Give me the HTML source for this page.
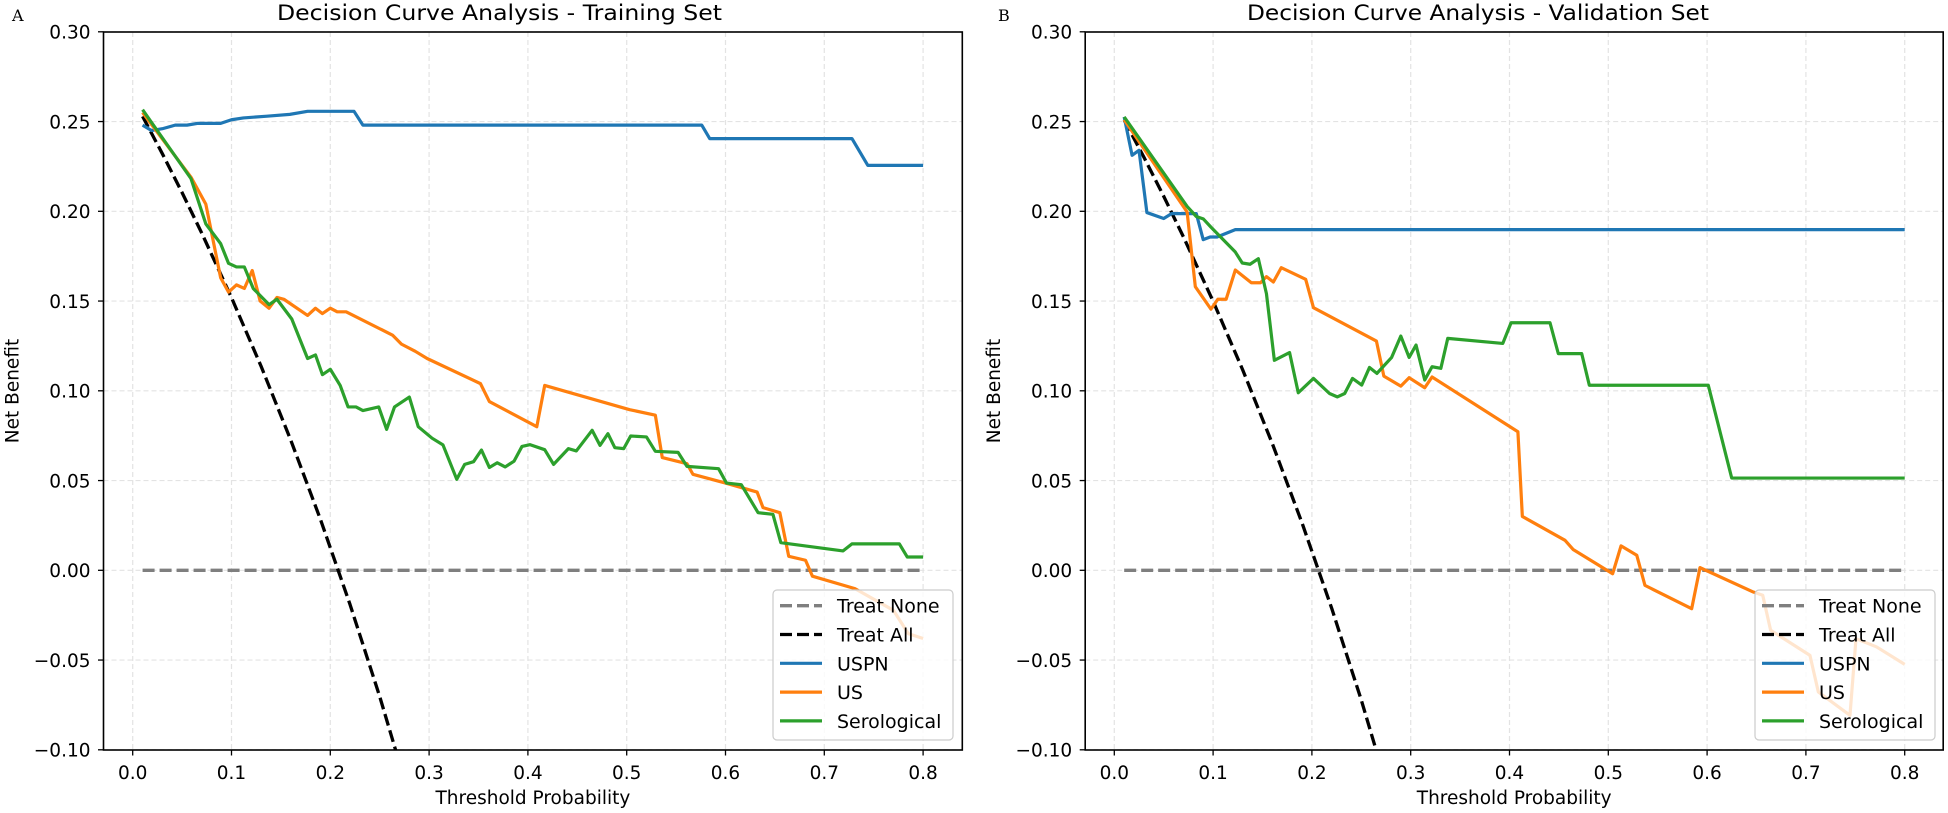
<!DOCTYPE html>
<html><head><meta charset="utf-8">
<style>
html,body{margin:0;padding:0;background:#fff;}
svg{display:block;}
text{font-family:"DejaVu Sans","Liberation Sans",sans-serif;fill:#000;}
.serif{font-family:"DejaVu Serif","Liberation Serif",serif;}
</style></head>
<body>
<svg id="chart" width="1948" height="813" viewBox="0 0 1948 813" xmlns="http://www.w3.org/2000/svg">
  <rect x="0" y="0" width="1948" height="813" fill="#fff"/>
  <text class="serif" x="12" y="21" font-size="16">A</text>
  <text class="serif" x="998" y="21" font-size="16">B</text>
  <g id="plotA"></g>
  <g id="plotB"></g>
</svg>
<script>
// ---- shared tick data ----
const xTicks = [0.0,0.1,0.2,0.3,0.4,0.5,0.6,0.7,0.8];
const xTickLabels = ["0.0","0.1","0.2","0.3","0.4","0.5","0.6","0.7","0.8"];
const yTicks = [0.30,0.25,0.20,0.15,0.10,0.05,0.00,-0.05,-0.10];
const yTickLabels = ["0.30","0.25","0.20","0.15","0.10","0.05","0.00","\u22120.05","\u22120.10"];
const legendLabels = ["Treat None","Treat All","USPN","US","Serological"];

// ---- Training set (A) ----
const trainNoneP = [0.01,0.80];
const trainNoneV = [0,0];
const trainAllP = [0.01,0.03,0.05,0.07,0.10,0.13,0.16,0.19,0.22,0.25,0.28];
const trainAllV = [0.2529,0.2321,0.2104,0.1877,0.1519,0.1136,0.0725,0.0284,-0.0191,-0.0703,-0.1259];
const trainUspnP = [0.01,0.019,0.03,0.043,0.055,0.066,0.089,0.10,0.112,0.136,0.159,0.177,0.224,0.233,0.576,0.584,0.728,0.744,0.80];
const trainUspnV = [0.248,0.245,0.246,0.248,0.248,0.249,0.249,0.251,0.252,0.253,0.254,0.2557,0.2557,0.248,0.248,0.2405,0.2405,0.2256,0.2256];
const trainUsP = [0.01,0.059,0.074,0.089,0.097,0.105,0.113,0.121,0.129,0.138,0.146,0.153,0.177,0.185,0.192,0.20,0.207,0.216,0.263,0.272,0.286,0.298,0.352,0.361,0.409,0.417,0.503,0.529,0.536,0.561,0.567,0.600,0.632,0.638,0.655,0.664,0.681,0.688,0.731,0.770,0.785,0.80];
const trainUsV = [0.255,0.219,0.204,0.163,0.155,0.159,0.157,0.167,0.150,0.146,0.152,0.151,0.142,0.146,0.143,0.146,0.144,0.144,0.131,0.126,0.122,0.118,0.104,0.094,0.080,0.103,0.0895,0.0864,0.0628,0.0594,0.0535,0.0486,0.0436,0.0349,0.0321,0.0078,0.0056,-0.0033,-0.0102,-0.0223,-0.0353,-0.038];
const trainSeroP = [0.01,0.059,0.074,0.089,0.097,0.105,0.113,0.122,0.138,0.146,0.161,0.177,0.185,0.192,0.20,0.21,0.218,0.226,0.233,0.249,0.257,0.265,0.28,0.289,0.303,0.314,0.328,0.336,0.345,0.353,0.361,0.369,0.377,0.386,0.394,0.402,0.417,0.426,0.441,0.449,0.465,0.473,0.481,0.488,0.497,0.504,0.520,0.529,0.552,0.561,0.593,0.601,0.616,0.633,0.648,0.656,0.719,0.728,0.776,0.784,0.80];
const trainSeroV = [0.2566,0.2182,0.193,0.182,0.171,0.169,0.169,0.157,0.148,0.151,0.140,0.118,0.120,0.109,0.112,0.103,0.091,0.091,0.089,0.091,0.0785,0.091,0.0965,0.080,0.0736,0.0699,0.0507,0.059,0.0605,0.067,0.0573,0.0599,0.0576,0.0608,0.069,0.070,0.0672,0.059,0.0678,0.0665,0.078,0.0696,0.0761,0.0683,0.0678,0.0748,0.0743,0.0663,0.0657,0.0579,0.0566,0.0486,0.0477,0.0321,0.0312,0.0154,0.0108,0.0147,0.0147,0.0074,0.0074];

// ---- Validation set (B) ----
const valNoneP = [0.01,0.80];
const valNoneV = [0,0];
const valAllP = [0.01,0.03,0.05,0.07,0.10,0.13,0.16,0.19,0.22,0.25,0.28];
const valAllV = [0.2509,0.2301,0.2084,0.1857,0.1499,0.1116,0.0705,0.0264,-0.0211,-0.0723,-0.1279];
const valUspnP = [0.01,0.018,0.025,0.033,0.050,0.058,0.083,0.090,0.097,0.104,0.1225,0.80];
const valUspnV = [0.2526,0.2312,0.234,0.1993,0.196,0.1987,0.1987,0.1842,0.1857,0.1857,0.1898,0.1898];
const valUsP = [0.01,0.0737,0.082,0.0978,0.1048,0.1132,0.1225,0.1387,0.148,0.154,0.161,0.169,0.1937,0.2016,0.2653,0.2728,0.290,0.2984,0.3142,0.3216,0.4085,0.413,0.4562,0.4646,0.5044,0.5129,0.5288,0.5371,0.5844,0.5928,0.6468,0.6563,0.6643,0.7041,0.7126,0.7446,0.7507,0.7716,0.80];
const valUsV = [0.251,0.1996,0.158,0.1455,0.151,0.151,0.1673,0.1602,0.1602,0.1636,0.1606,0.1686,0.1621,0.1463,0.1277,0.1082,0.1026,0.1073,0.1017,0.1077,0.0772,0.030,0.0167,0.0115,-0.0019,0.0136,0.0084,-0.0084,-0.0214,0.0015,-0.0121,-0.0139,-0.0334,-0.0474,-0.0678,-0.0808,-0.0381,-0.0427,-0.0524];
const valSeroP = [0.01,0.0737,0.083,0.090,0.0978,0.1076,0.1225,0.1295,0.1374,0.1458,0.154,0.162,0.1774,0.1862,0.2016,0.2178,0.2257,0.2332,0.2411,0.2504,0.2583,0.2658,0.2807,0.290,0.2984,0.3054,0.3142,0.3216,0.3305,0.3375,0.3932,0.4016,0.441,0.4494,0.4731,0.4808,0.6012,0.6249,0.80];
const valSeroV = [0.2526,0.2027,0.1971,0.1958,0.1912,0.1857,0.1773,0.1712,0.1705,0.1736,0.1541,0.117,0.1213,0.0989,0.1069,0.0985,0.0966,0.0985,0.1069,0.1032,0.113,0.1097,0.1186,0.1305,0.1186,0.1255,0.106,0.1134,0.1125,0.1292,0.1264,0.1379,0.1379,0.1207,0.1207,0.1031,0.1031,0.0514,0.0514];

const NS = "http://www.w3.org/2000/svg";
function mk(parent, tag, attrs, txt){
  const e = document.createElementNS(NS, tag);
  for (const k in attrs) e.setAttribute(k, attrs[k]);
  if (txt !== undefined) e.textContent = txt;
  parent.appendChild(e);
  return e;
}

const Y0 = 570.3, YS = 1795, TOP = 32, BOT = 750;
function yScale(v){ return Y0 - YS*v; }

function drawPlot(g, cfg){
  const xScale = p => cfg.x0 + 988*p;
  const L = cfg.left, R = cfg.right;
  const clipId = cfg.id + "-clip";
  const defs = mk(g, "defs", {});
  const cp = mk(defs, "clipPath", {id: clipId});
  mk(cp, "rect", {x:L, y:TOP, width:R-L, height:BOT-TOP});

  // grid
  xTicks.forEach((t,i) => {
    const gl = mk(g, "line", {x1:xScale(t), x2:xScale(t), y1:TOP, y2:BOT, stroke:"#e3e3e3", "stroke-width":1.2, "stroke-dasharray":"5,3"});
    
    
  });
  yTicks.forEach((t,i) => {
    const gl = mk(g, "line", {x1:L, x2:R, y1:yScale(t), y2:yScale(t), stroke:"#e3e3e3", "stroke-width":1.2, "stroke-dasharray":"5,3"});
    
    
  });

  const series = [
    {p:cfg.noneP, v:cfg.noneV, color:"#7f7f7f", dash:"12,5", w:3.3, name:"treat-none-line"},
    {p:cfg.allP, v:cfg.allV, color:"#000", dash:"12,5", w:3.3, name:"treat-all-line"},
    {p:cfg.uspnP, v:cfg.uspnV, color:"#1f77b4", dash:null, w:3.2, name:"uspn-line"},
    {p:cfg.usP, v:cfg.usV, color:"#ff7f0e", dash:null, w:3.2, name:"us-line"},
    {p:cfg.seroP, v:cfg.seroV, color:"#2ca02c", dash:null, w:3.2, name:"serological-line"}
  ];
  const lg = mk(g, "g", {"clip-path":"url(#"+clipId+")"});
  series.forEach(s => {
    const d = s.p.map((p,i) => (i?"L":"M") + xScale(p).toFixed(2) + "," + yScale(s.v[i]).toFixed(2)).join(" ");
    const a = {d:d, fill:"none", stroke:s.color, "stroke-width":s.w, "stroke-linejoin":"round"};
    if (s.dash) a["stroke-dasharray"] = s.dash;
    const path = mk(lg, "path", a);
    
    
  });

  // spines
  const frame = mk(g, "rect", {x:L, y:TOP, width:R-L, height:BOT-TOP, fill:"none", stroke:"#000", "stroke-width":1.6});
  
  

  // ticks
  xTicks.forEach((t,i) => {
    const x = xScale(t);
    mk(g, "line", {x1:x, x2:x, y1:BOT, y2:BOT+5.5, stroke:"#000", "stroke-width":1.3});
    const tl = mk(g, "text", {x:x, y:779, "font-size":18.5, "text-anchor":"middle"}, xTickLabels[i]);
    
    
  });
  yTicks.forEach((t,i) => {
    const y = yScale(t);
    mk(g, "line", {x1:L-5.5, x2:L, y1:y, y2:y, stroke:"#000", "stroke-width":1.3});
    const tl = mk(g, "text", {x:L-13, y:y+6.7, "font-size":18.5, "text-anchor":"end"}, yTickLabels[i]);
    
    
  });

  // labels
  const xl = mk(g, "text", {x:(L+R)/2, y:804, "font-size":18.5, "text-anchor":"middle"}, "Threshold Probability");
  
  
  const yx = L - 85;
  const yl = mk(g, "text", {x:yx, y:391, "font-size":18.5, "text-anchor":"middle", transform:"rotate(-90 "+yx+" 391)"}, "Net Benefit");
  
  
  const ti = mk(g, "text", {x:cfg.titleX, y:20, "font-size":21, textLength:cfg.titleW, lengthAdjust:"spacingAndGlyphs"}, cfg.title);
  
  

  // legend
  const lgX = cfg.legX, lgY = 590, lgW = 180, lgH = 150;
  const leg = mk(g, "g", {});
  
  
  mk(leg, "rect", {x:lgX, y:lgY, width:lgW, height:lgH, rx:4, fill:"#fff", "fill-opacity":0.8, stroke:"#cccccc", "stroke-width":1.2});
  legendLabels.forEach((lab,i) => {
    const s = series[i];
    const cy = 605.7 + i*28.8;
    const a = {x1:lgX+7, x2:lgX+49, y1:cy, y2:cy, stroke:s.color, "stroke-width":s.w};
    if (s.dash) a["stroke-dasharray"] = "12,5";
    const h = mk(leg, "line", a);
    
    
    const tx = mk(leg, "text", {x:lgX+64, y:cy+7, "font-size":19}, lab);
    
    
  });
}

drawPlot(document.getElementById("plotA"), {
  id:"a", x0:132.7, left:103.5, right:962.3, legX:773,
  title:"Decision Curve Analysis - Training Set", titleX:277, titleW:445,
  noneP:trainNoneP, noneV:trainNoneV, allP:trainAllP, allV:trainAllV,
  uspnP:trainUspnP, uspnV:trainUspnV, usP:trainUsP, usV:trainUsV, seroP:trainSeroP, seroV:trainSeroV
});
drawPlot(document.getElementById("plotB"), {
  id:"b", x0:1114.3, left:1085.2, right:1943.2, legX:1755,
  title:"Decision Curve Analysis - Validation Set", titleX:1247, titleW:462,
  noneP:valNoneP, noneV:valNoneV, allP:valAllP, allV:valAllV,
  uspnP:valUspnP, uspnV:valUspnV, usP:valUsP, usV:valUsV, seroP:valSeroP, seroV:valSeroV
});
</script>
</body></html>
